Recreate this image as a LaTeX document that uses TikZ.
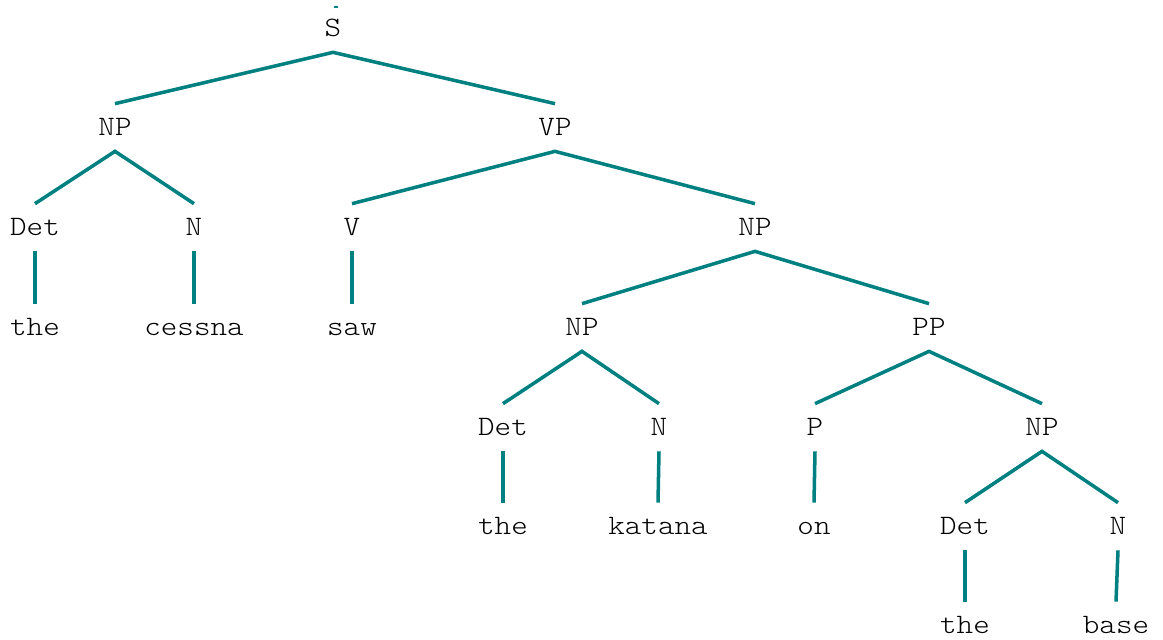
\documentclass[tikz,border=0pt]{standalone}
\usepackage{fontspec}
\setmonofont{Latin Modern Mono Light}[FakeStretch=1.12]
\definecolor{tree_teal}{RGB}{0, 128, 128}
\tikzset {
  cat/.style = {font=\ttfamily\fontsize{16}{19}\selectfont, anchor=base, inner xsep=0pt,
    inner ysep=0.28cm, text height=0.34cm, text depth=0.04cm},
  word/.style = {cat},
  branch/.style = {draw=tree_teal, line width=2pt, line cap=butt},
}

\begin{document}
\begin{tikzpicture}[x=0.02cm, y=-0.02cm]
    \useasboundingbox (0,0) rectangle (1163,639);

    % categories
    \node[cat] (s) at (333,36) {S};
    \node[cat] (np1) at (115,135) {NP};
    \node[cat] (vp) at (555,135) {VP};
    \node[cat] (det1) at (35,235) {Det};
    \node[cat] (n1) at (194,235) {N};
    \node[cat] (v) at (352,235) {V};
    \node[cat] (np2) at (755,235) {NP};
    \node[cat] (np3) at (582,335) {NP};
    \node[cat] (pp) at (929,335) {PP};
    \node[cat] (det2) at (503,435) {Det};
    \node[cat] (n2) at (659,435) {N};
    \node[cat] (p) at (815,435) {P};
    \node[cat] (np4) at (1042,435) {NP};
    \node[cat] (det3) at (965,534) {Det};
    \node[cat] (n3) at (1118,534) {N};

    % words
    \node[word] (the1) at (35,335) {the};
    \node[word] (cessna) at (194,335) {cessna};
    \node[word] (saw) at (352,335) {saw};
    \node[word] (the2) at (503,534) {the};
    \node[word] (katana) at (658,534) {katana};
    \node[word] (on) at (814,534) {on};
    \node[word] (the3) at (965,633) {the};
    \node[word] (base) at (1116,633) {base};

    % stub above the root
    \coordinate (rootl) at (334,7);
    \coordinate (rootr) at (338,7);
    \draw[draw=tree_teal, line width=0.6pt] (rootl) -- (rootr);

    \draw[branch] (np1.north) -- (s.south) -- (vp.north);
    \draw[branch] (det1.north) -- (np1.south) -- (n1.north);
    \draw[branch] (v.north) -- (vp.south) -- (np2.north);
    \draw[branch] (np3.north) -- (np2.south) -- (pp.north);
    \draw[branch] (det2.north) -- (np3.south) -- (n2.north);
    \draw[branch] (p.north) -- (pp.south) -- (np4.north);
    \draw[branch] (det3.north) -- (np4.south) -- (n3.north);

    \draw[branch] (det1.south) -- (the1.north);
    \draw[branch] (n1.south) -- (cessna.north);
    \draw[branch] (v.south) -- (saw.north);
    \draw[branch] (det2.south) -- (the2.north);
    \draw[branch] (n2.south) -- (katana.north);
    \draw[branch] (p.south) -- (on.north);
    \draw[branch] (det3.south) -- (the3.north);
    \draw[branch] (n3.south) -- (base.north);
    
\end{tikzpicture}
\end{document}
